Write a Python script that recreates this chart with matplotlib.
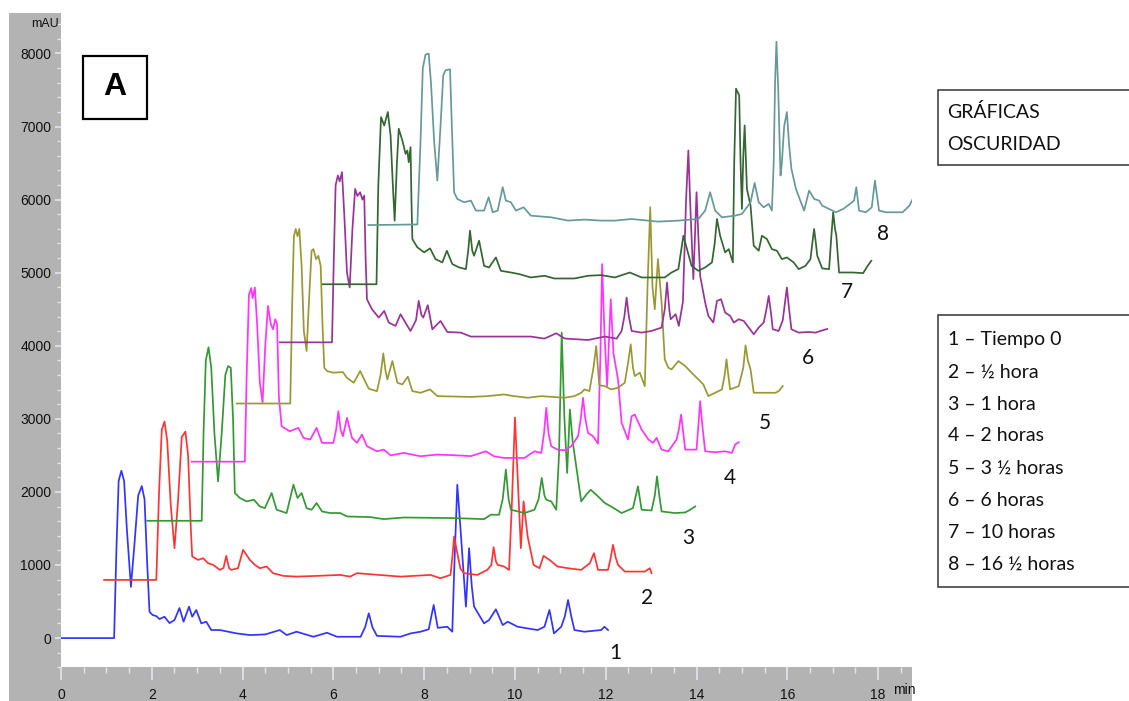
import matplotlib
matplotlib.use("Agg")
import matplotlib.pyplot as plt
from matplotlib.patches import Rectangle
from matplotlib import font_manager

# ---------------- data (time in min, signal in mAU) ----------------
t1 = [0, 1.17, 1.22, 1.27, 1.33, 1.39, 1.45, 1.54, 1.62, 1.70, 1.78, 1.84, 1.90, 1.95, 2.02, 2.10, 2.17, 2.28, 2.39, 2.50, 2.61, 2.70, 2.82, 2.89, 2.98, 3.09, 3.20, 3.31, 3.50, 3.87, 4.16, 4.50, 4.82, 4.97, 5.19, 5.56, 5.86, 6.08, 6.60, 6.70, 6.78, 6.86, 6.96, 7.48, 7.70, 7.92, 8.10, 8.21, 8.30, 8.51, 8.62, 8.66, 8.73, 8.80, 8.92, 8.99, 9.05, 9.10, 9.32, 9.43, 9.58, 9.73, 9.84, 10.06, 10.50, 10.65, 10.76, 10.86, 11.02, 11.10, 11.17, 11.24, 11.31, 11.53, 11.90, 11.97, 12.05]
v1 = [0, 0, 1200, 2150, 2290, 2150, 1500, 700, 1300, 1950, 2080, 1900, 1000, 360, 315, 300, 260, 292, 205, 247, 411, 224, 430, 292, 384, 201, 224, 110, 110, 64, 41, 50, 110, 41, 87, 18, 73, 18, 18, 150, 339, 150, 30, 18, 64, 87, 120, 453, 140, 155, 87, 900, 2099, 1500, 430, 1230, 700, 430, 201, 247, 394, 178, 224, 155, 110, 155, 384, 64, 155, 300, 521, 300, 110, 87, 110, 155, 110]

t2 = [0.95, 2.10, 2.16, 2.22, 2.28, 2.34, 2.42, 2.50, 2.58, 2.66, 2.74, 2.80, 2.86, 2.89, 3.02, 3.13, 3.24, 3.35, 3.50, 3.58, 3.64, 3.70, 3.75, 3.90, 4.01, 4.16, 4.27, 4.38, 4.53, 4.67, 4.90, 5.19, 5.63, 6.15, 6.37, 6.52, 7.48, 8.14, 8.36, 8.58, 8.62, 8.66, 8.73, 8.80, 8.88, 9.17, 9.39, 9.48, 9.53, 9.58, 9.62, 9.76, 9.87, 9.93, 10.00, 10.06, 10.13, 10.19, 10.28, 10.41, 10.54, 10.63, 10.76, 10.94, 11.17, 11.46, 11.65, 11.74, 11.83, 12.05, 12.11, 12.16, 12.22, 12.27, 12.42, 12.86, 12.97, 13.01]
v2 = [796, 796, 2000, 2850, 2963, 2700, 1800, 1230, 1900, 2750, 2826, 2500, 1500, 1116, 1070, 1093, 1025, 1002, 933, 960, 1125, 960, 933, 956, 1207, 1070, 1002, 956, 979, 888, 851, 841, 851, 864, 841, 888, 841, 864, 819, 864, 1100, 1390, 1162, 950, 888, 864, 933, 1000, 1244, 1050, 1002, 979, 933, 1800, 3018, 2200, 1230, 1870, 1390, 1002, 956, 1125, 1070, 979, 956, 933, 1025, 1162, 933, 933, 1100, 1276, 1100, 1002, 910, 910, 956, 888]

t3 = [1.90, 3.10, 3.14, 3.19, 3.25, 3.31, 3.38, 3.46, 3.54, 3.62, 3.68, 3.74, 3.79, 3.83, 3.94, 4.09, 4.25, 4.38, 4.49, 4.64, 4.75, 4.97, 5.12, 5.21, 5.30, 5.41, 5.52, 5.63, 5.75, 5.93, 6.15, 6.30, 6.81, 7.11, 7.55, 8.66, 9.32, 9.47, 9.65, 9.73, 9.80, 9.86, 9.91, 10.21, 10.43, 10.52, 10.59, 10.65, 10.69, 10.80, 10.91, 10.97, 11.03, 11.09, 11.15, 11.21, 11.27, 11.35, 11.46, 11.57, 11.67, 11.83, 11.98, 12.12, 12.35, 12.60, 12.71, 12.79, 13.01, 13.08, 13.13, 13.18, 13.23, 13.52, 13.75, 13.86, 13.97]
v3 = [1605, 1605, 2800, 3800, 3979, 3700, 2800, 2145, 2800, 3600, 3722, 3700, 3000, 1985, 1917, 1870, 1893, 1801, 1778, 1985, 1756, 1711, 2099, 1917, 1985, 1778, 1756, 1848, 1733, 1711, 1711, 1664, 1656, 1628, 1650, 1642, 1628, 1688, 1688, 1900, 2305, 1900, 1756, 1711, 1756, 1900, 2191, 1950, 1893, 1870, 1756, 2500, 4180, 3000, 2260, 3128, 2700, 2350, 1870, 1962, 2030, 1939, 1848, 1800, 1711, 1779, 2076, 1756, 1746, 1950, 2213, 1950, 1733, 1711, 1719, 1756, 1801]

t4 = [2.88, 4.05, 4.09, 4.14, 4.19, 4.22, 4.27, 4.32, 4.38, 4.44, 4.50, 4.56, 4.62, 4.67, 4.72, 4.76, 4.80, 4.86, 5.04, 5.23, 5.34, 5.49, 5.63, 5.75, 6.00, 6.06, 6.11, 6.16, 6.21, 6.30, 6.41, 6.52, 6.63, 6.74, 6.96, 7.11, 7.26, 7.55, 7.92, 8.29, 8.73, 9.03, 9.36, 9.54, 9.76, 10.21, 10.43, 10.58, 10.64, 10.69, 10.74, 10.80, 10.94, 11.09, 11.24, 11.39, 11.45, 11.50, 11.55, 11.61, 11.72, 11.83, 11.88, 11.92, 11.97, 12.03, 12.11, 12.17, 12.27, 12.35, 12.49, 12.57, 12.64, 12.79, 12.94, 13.04, 13.12, 13.23, 13.38, 13.56, 13.61, 13.66, 13.71, 13.75, 14.00, 14.04, 14.08, 14.13, 14.19, 14.41, 14.63, 14.78, 14.85, 14.93]
v4 = [2414, 2414, 3600, 4700, 4790, 4650, 4798, 4300, 3500, 3220, 4000, 4546, 4300, 4226, 4363, 4300, 3300, 2899, 2830, 2877, 2740, 2717, 2877, 2671, 2671, 2850, 3105, 2850, 2762, 3014, 2740, 2671, 2785, 2625, 2556, 2579, 2500, 2534, 2488, 2511, 2500, 2490, 2556, 2488, 2465, 2465, 2556, 2534, 2800, 3151, 2800, 2625, 2579, 2570, 2625, 2762, 3000, 3288, 3000, 2808, 2762, 2660, 3800, 5118, 4200, 3448, 4637, 3900, 3540, 2946, 2717, 3036, 3059, 2854, 2717, 2671, 2740, 2579, 2556, 2717, 2850, 3059, 2800, 2579, 2579, 2900, 3242, 2900, 2556, 2543, 2556, 2534, 2648, 2680]

t5 = [3.87, 5.05, 5.09, 5.13, 5.17, 5.21, 5.25, 5.30, 5.35, 5.41, 5.47, 5.52, 5.56, 5.62, 5.67, 5.72, 5.76, 5.80, 5.86, 6.00, 6.21, 6.30, 6.45, 6.59, 6.78, 6.96, 7.04, 7.10, 7.15, 7.19, 7.30, 7.41, 7.52, 7.64, 7.74, 7.92, 8.13, 8.29, 9.03, 9.39, 9.76, 9.98, 10.28, 10.58, 11.09, 11.31, 11.46, 11.53, 11.64, 11.73, 11.79, 11.84, 11.86, 11.98, 12.12, 12.27, 12.42, 12.50, 12.55, 12.60, 12.64, 12.75, 12.86, 12.92, 12.98, 13.03, 13.08, 13.15, 13.23, 13.30, 13.38, 13.45, 13.60, 13.75, 13.89, 14.04, 14.15, 14.26, 14.41, 14.56, 14.62, 14.66, 14.70, 14.74, 14.93, 15.03, 15.08, 15.13, 15.19, 15.26, 15.52, 15.74, 15.81, 15.90]
v5 = [3210, 3210, 4500, 5500, 5598, 5500, 5598, 5100, 4200, 3928, 4700, 5300, 5323, 5186, 5231, 5094, 4300, 3700, 3654, 3632, 3640, 3560, 3494, 3654, 3412, 3379, 3600, 3896, 3650, 3540, 3791, 3494, 3471, 3577, 3379, 3357, 3403, 3311, 3300, 3311, 3334, 3311, 3289, 3311, 3289, 3311, 3357, 3403, 3380, 3700, 3997, 3600, 3460, 3448, 3403, 3426, 3494, 3800, 4020, 3700, 3585, 3632, 3448, 4800, 5896, 4800, 4500, 5186, 4592, 3814, 3700, 3677, 3791, 3723, 3632, 3540, 3471, 3311, 3357, 3403, 3600, 3814, 3600, 3403, 3448, 3700, 4006, 3800, 3677, 3357, 3357, 3357, 3379, 3448]

t6 = [4.82, 5.97, 6.01, 6.05, 6.10, 6.14, 6.19, 6.24, 6.30, 6.36, 6.42, 6.48, 6.53, 6.59, 6.64, 6.68, 6.71, 6.74, 6.85, 7.00, 7.12, 7.22, 7.37, 7.48, 7.63, 7.70, 7.82, 7.88, 7.94, 7.98, 8.08, 8.18, 8.36, 8.51, 8.81, 9.03, 9.39, 9.98, 10.35, 10.65, 10.91, 11.09, 11.61, 11.98, 12.24, 12.35, 12.41, 12.46, 12.51, 12.57, 12.79, 13.01, 13.23, 13.30, 13.35, 13.40, 13.43, 13.54, 13.61, 13.70, 13.77, 13.82, 13.87, 13.93, 13.96, 14.00, 14.04, 14.08, 14.19, 14.26, 14.37, 14.45, 14.54, 14.63, 14.74, 14.82, 14.93, 15.04, 15.15, 15.26, 15.37, 15.48, 15.54, 15.59, 15.64, 15.68, 15.81, 15.90, 15.99, 16.04, 16.09, 16.25, 16.47, 16.62, 16.73, 16.88]
v6 = [4047, 4047, 5200, 6200, 6330, 6250, 6376, 5800, 5000, 4798, 5600, 6147, 6050, 6101, 6000, 6055, 5200, 4637, 4500, 4386, 4477, 4318, 4272, 4432, 4272, 4203, 4350, 4614, 4420, 4386, 4555, 4226, 4340, 4189, 4180, 4126, 4126, 4126, 4126, 4098, 4171, 4100, 4079, 4126, 4098, 4203, 4400, 4660, 4400, 4203, 4180, 4203, 4249, 4500, 4866, 4500, 4363, 4432, 4272, 4600, 6000, 6672, 5800, 4912, 5400, 6101, 5500, 4957, 4592, 4409, 4318, 4614, 4637, 4455, 4409, 4318, 4363, 4340, 4249, 4157, 4249, 4318, 4500, 4683, 4450, 4226, 4203, 4350, 4798, 4500, 4226, 4180, 4189, 4180, 4203, 4230]

t7 = [5.77, 6.95, 6.99, 7.05, 7.12, 7.20, 7.26, 7.31, 7.35, 7.40, 7.44, 7.52, 7.59, 7.63, 7.66, 7.70, 7.72, 7.74, 7.85, 8.00, 8.13, 8.25, 8.40, 8.50, 8.62, 8.77, 8.92, 8.97, 9.01, 9.06, 9.10, 9.21, 9.32, 9.43, 9.58, 9.69, 9.91, 10.10, 10.35, 10.65, 10.87, 11.31, 11.61, 11.90, 12.20, 12.53, 12.79, 13.30, 13.45, 13.60, 13.71, 13.79, 13.89, 14.04, 14.19, 14.34, 14.40, 14.45, 14.52, 14.63, 14.71, 14.80, 14.83, 14.87, 14.94, 14.97, 15.00, 15.03, 15.06, 15.09, 15.11, 15.19, 15.26, 15.37, 15.44, 15.55, 15.66, 15.77, 15.88, 15.99, 16.14, 16.25, 16.40, 16.51, 16.55, 16.59, 16.63, 16.66, 16.77, 16.92, 16.97, 17.01, 17.05, 17.08, 17.14, 17.45, 17.67, 17.77, 17.85]
v7 = [4842, 4842, 6200, 7130, 7015, 7199, 6878, 6200, 5712, 6500, 6970, 6809, 6627, 6672, 6512, 6718, 6000, 5461, 5347, 5278, 5333, 5186, 5141, 5300, 5118, 5072, 5049, 5300, 5575, 5300, 5232, 5438, 5094, 5072, 5209, 5026, 5003, 4980, 4935, 4958, 4921, 4921, 4958, 4967, 4935, 5003, 4935, 4935, 5003, 5050, 5506, 5323, 5094, 5026, 5072, 5141, 5400, 5735, 5506, 5278, 5323, 5141, 6500, 7519, 7427, 6500, 5872, 6600, 7015, 6500, 6147, 5918, 5369, 5301, 5506, 5461, 5323, 5301, 5186, 5209, 5141, 5049, 5094, 5186, 5400, 5598, 5400, 5232, 5058, 5049, 5500, 5827, 5600, 5506, 5003, 5003, 4994, 5094, 5163]

t8 = [6.77, 7.85, 7.92, 7.97, 8.03, 8.10, 8.15, 8.22, 8.29, 8.36, 8.42, 8.47, 8.57, 8.61, 8.66, 8.73, 8.88, 9.03, 9.14, 9.32, 9.42, 9.51, 9.62, 9.73, 9.80, 9.91, 10.02, 10.19, 10.35, 10.80, 11.17, 11.53, 11.90, 12.20, 12.57, 13.15, 13.60, 14.04, 14.19, 14.30, 14.41, 14.56, 14.85, 15.00, 15.19, 15.28, 15.37, 15.48, 15.59, 15.66, 15.70, 15.73, 15.76, 15.80, 15.85, 15.88, 15.93, 15.99, 16.04, 16.09, 16.19, 16.30, 16.37, 16.48, 16.59, 16.70, 16.77, 16.92, 17.07, 17.23, 17.38, 17.47, 17.52, 17.58, 17.73, 17.86, 17.93, 18.02, 18.17, 18.54, 18.69, 18.80]
v8 = [5652, 5660, 6800, 7800, 7985, 7999, 7600, 6800, 6261, 7000, 7700, 7770, 7784, 7000, 6101, 6010, 5964, 5987, 5850, 5850, 6032, 5827, 5850, 6170, 5987, 5964, 5850, 5895, 5781, 5758, 5713, 5727, 5713, 5713, 5735, 5699, 5713, 5735, 5850, 6101, 5850, 5758, 5781, 5804, 5964, 6229, 5964, 5895, 5941, 5850, 6500, 7600, 8161, 7500, 6330, 6500, 7000, 7199, 6741, 6421, 6147, 5964, 5850, 6124, 6010, 5987, 5918, 5872, 5827, 5872, 5941, 5987, 6170, 5850, 5827, 5895, 6261, 5850, 5827, 5827, 5918, 6055]

trace_labels = ["1", "2", "3", "4", "5", "6", "7", "8"]
legend_lines = ["1 \u2013 Tiempo 0", "2 \u2013 \u00bd hora", "3 \u2013 1 hora", "4 \u2013 2 horas",
                "5 \u2013 3 \u00bd horas", "6 \u2013 6 horas", "7 \u2013 10 horas", "8 \u2013 16 \u00bd horas"]
title_lines = ["GR\u00c1FICAS", "OSCURIDAD"]
panel_letter = "A"
y_ticks = [0, 1000, 2000, 3000, 4000, 5000, 6000, 7000, 8000]
x_ticks = [0, 2, 4, 6, 8, 10, 12, 14, 16, 18]

colors = ["#3333ff", "#ff3333", "#339933", "#ff33ff", "#999933", "#993399", "#336633", "#669999"]

# ---------------- fonts ----------------
def has_font(name):
    try:
        font_manager.findfont(name, fallback_to_default=False)
        return True
    except Exception:
        return False

tick_font = "Liberation Sans Narrow" if has_font("Liberation Sans Narrow") else "Liberation Sans"
text_font = "Lato" if has_font("Lato") else "DejaVu Sans"

W, H = 1129, 701
fig = plt.figure(figsize=(W / 100, H / 100), dpi=100)
fig.patch.set_facecolor("white")

def fx(x):
    return x / W

def fy(y):
    return 1 - y / H

# gray instrument panels
fig.add_artist(Rectangle((fx(9.3), fy(701)), fx(61) - fx(9.3), fy(13.3) - fy(701),
                         transform=fig.transFigure, facecolor="#b3b3b3", edgecolor="none", zorder=-5))
fig.add_artist(Rectangle((fx(9.3), fy(701)), fx(911.7) - fx(9.3), fy(667.3) - fy(701),
                         transform=fig.transFigure, facecolor="#b3b3b3", edgecolor="none", zorder=-5))

ax = fig.add_axes([fx(61), fy(667.3), fx(911.7) - fx(61), fy(13.3) - fy(667.3)])
ax.set_facecolor("white")
for s in ax.spines.values():
    s.set_visible(False)

series = [(t1, v1), (t2, v2), (t3, v3), (t4, v4), (t5, v5), (t6, v6), (t7, v7), (t8, v8)]
for (t, v), c in zip(series, colors):
    ax.plot(t, v, color=c, lw=1.25, solid_joinstyle="round", zorder=3)

ax.set_xlim(0, 18.74)
ax.set_ylim(-400, 8550)

ax.set_yticks(y_ticks)
ax.set_yticklabels([str(v) for v in y_ticks], fontfamily=tick_font, fontsize=10, color="#111111")
ax.set_yticks(range(-400, 8550, 200), minor=True)
ax.set_xticks(x_ticks)
ax.set_xticklabels([str(v) for v in x_ticks], fontfamily=tick_font, fontsize=10, color="#111111")
ax.set_xticks([i * 0.5 for i in range(0, 38)], minor=True)
ax.tick_params(axis="y", which="major", direction="out", length=4, width=1.2, color="#e4e4f0", pad=3)
ax.tick_params(axis="y", which="minor", direction="out", length=3, width=1.0, color="#e4e4f0")
ax.tick_params(axis="x", which="major", direction="out", length=9, width=1.2, color="#e4e4f0", pad=6)
ax.tick_params(axis="x", which="minor", direction="out", length=4, width=1.0, color="#e4e4f0")

fig.text(fx(45), fy(24), "mAU", family=tick_font, fontsize=9, ha="center", va="center", color="#111111")
fig.text(fx(904), fy(690), "min", family=tick_font, fontsize=10, ha="center", va="center", color="#111111")

# panel letter box
fig.add_artist(Rectangle((fx(83.3), fy(119)), fx(146.7) - fx(83.3), fy(55.7) - fy(119),
                         transform=fig.transFigure, facecolor="white", edgecolor="black", lw=1.6, zorder=5))
fig.text(fx(115), fy(87), panel_letter, family="Liberation Sans", fontweight="bold", fontsize=23,
         ha="center", va="center", zorder=6)

# trace numbers
num_pos = [(615, 653), (647, 598), (688, 538), (730, 478), (765, 423), (808, 358), (847, 292), (883, 234)]
for lab, (x, y) in zip(trace_labels, num_pos):
    fig.text(fx(x), fy(y), lab, family=text_font, fontsize=15, ha="center", va="center", color="#111111")

# title box
fig.add_artist(Rectangle((fx(937.5), fy(165)), fx(1140) - fx(937.5), fy(90) - fy(165),
                         transform=fig.transFigure, facecolor="white", edgecolor="#333333", lw=1.1, zorder=5))
for i, s in enumerate(title_lines):
    fig.text(fx(947), fy(112 + 32 * i), s, family=text_font, fontsize=14, ha="left", va="center",
             color="#111111", zorder=6)

# legend box
fig.add_artist(Rectangle((fx(938), fy(587)), fx(1140) - fx(938), fy(315) - fy(587),
                         transform=fig.transFigure, facecolor="white", edgecolor="#333333", lw=1.1, zorder=5))
for i, s in enumerate(legend_lines):
    fig.text(fx(948), fy(340 + 32 * i), s, family=text_font, fontsize=14, ha="left", va="center",
             color="#111111", zorder=6)

fig.savefig("out.png", dpi=100, facecolor="white")
